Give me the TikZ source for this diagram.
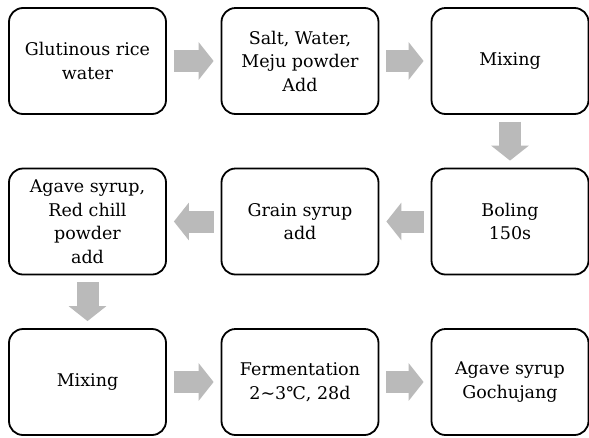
\documentclass[tikz,border=0pt]{standalone}
\usepackage{fontspec}
\setmainfont{DejaVu Serif}
\usetikzlibrary{arrows.meta}
\begin{document}
\begin{tikzpicture}[x=1pt,y=-1pt,
  stepbox/.style={draw=black, line width=1.8pt, rounded corners=14pt,
    minimum width=157pt, minimum height=106pt, align=center,
    font=\fontsize{17.5}{23.5}\selectfont, inner sep=2pt},
  flowarrow/.style={draw=arrowgray, line width=22pt,
    -{Triangle[length=15pt,width=37pt]}, shorten <=7pt, shorten >=7pt}]
\definecolor{arrowgray}{RGB}{186,186,186}
\fill[white] (0,0) rectangle (589,437);
\useasboundingbox (0,0) rectangle (589,437);
\node[stepbox] (b1) at (87.5,61) {Glutinous rice\\water};
\node[stepbox] (b2) at (300,61) {Salt, Water,\\Meju powder\\Add};
\node[stepbox] (b3) at (510,61) {Mixing};
\node[stepbox] (b4) at (510,221.5) {Boling\\150s};
\node[stepbox] (b5) at (300,221.5) {Grain syrup\\add};
\node[stepbox] (b6) at (87.5,221.5) {Agave syrup,\\Red chill\\powder\\add};
\node[stepbox] (b7) at (87.5,382) {Mixing};
\node[stepbox] (b8) at (300,382) {Fermentation\\2\textasciitilde3℃, 28d};
\node[stepbox] (b9) at (510,382) {Agave syrup\\Gochujang};
\draw[flowarrow] (b1) -- (b2);
\draw[flowarrow] (b2) -- (b3);
\draw[flowarrow] (b3) -- (b4);
\draw[flowarrow] (b4) -- (b5);
\draw[flowarrow] (b5) -- (b6);
\draw[flowarrow] (b6) -- (b7);
\draw[flowarrow] (b7) -- (b8);
\draw[flowarrow] (b8) -- (b9);
\end{tikzpicture}
\end{document}
